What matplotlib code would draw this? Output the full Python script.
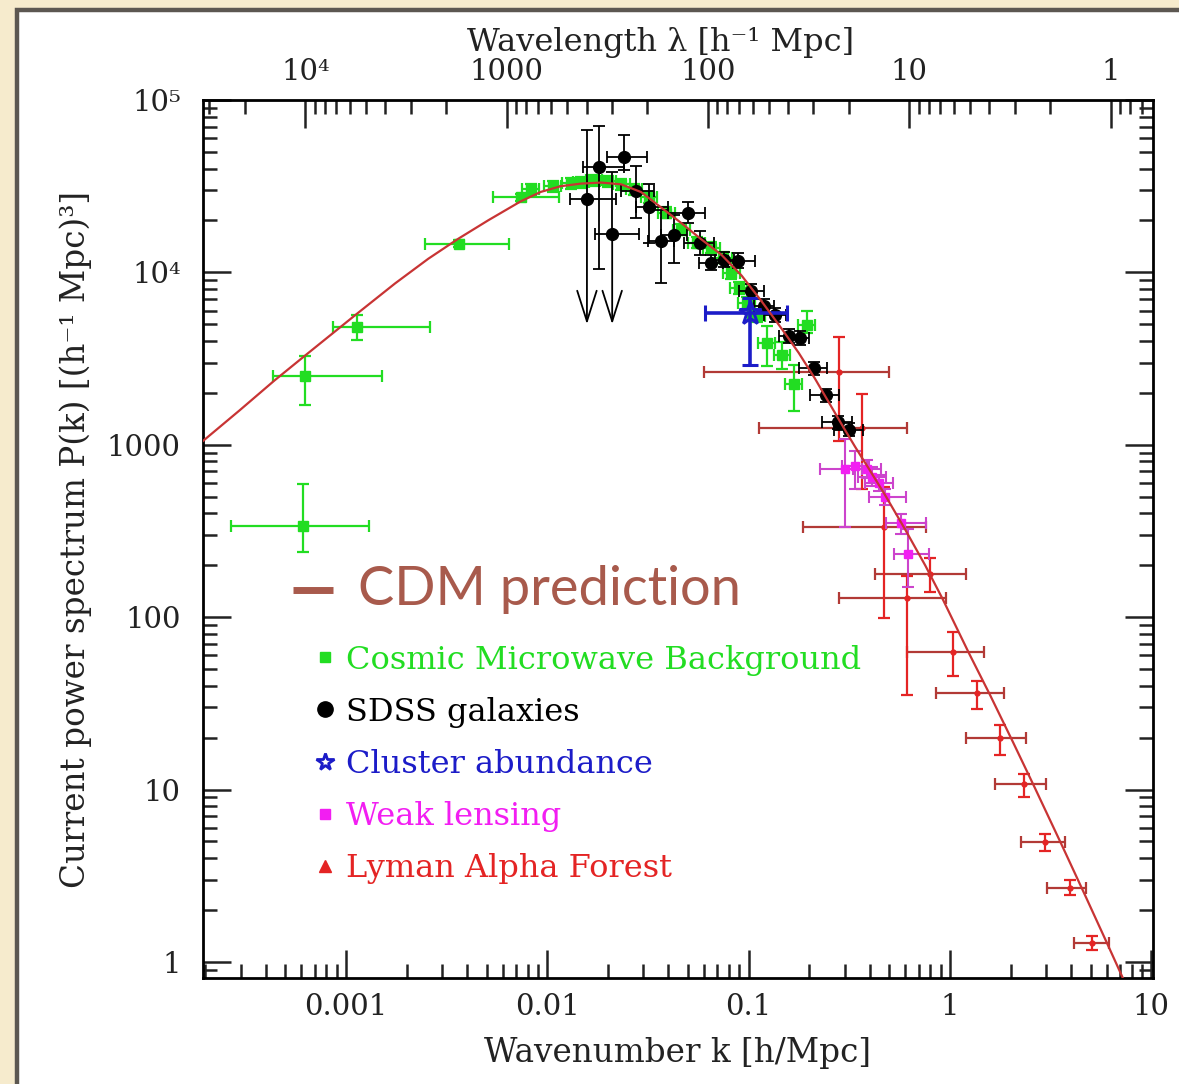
import numpy as np
import matplotlib.pyplot as plt
from matplotlib.lines import Line2D
from matplotlib.patches import Rectangle
from matplotlib.ticker import LogLocator, NullFormatter

# CDM prediction
cdm_k = [1.936e-4, 2.958e-4, 4.426e-4, 6.245e-4, 1.109e-3, 1.754e-3, 2.564e-3, 3.622e-3,
         5.105e-3, 7.379e-3, 9.29e-3, 0.01167, 0.01469, 0.01849, 0.02328, 0.02924,
         0.03681, 0.04634, 0.05834, 0.07328, 0.09226, 0.1161, 0.1462, 0.1774, 0.2133,
         0.2506, 0.2911, 0.3381, 0.3972, 0.4764, 0.5998, 0.7551, 0.9183, 1.250, 1.574,
         2.051, 2.636, 3.639, 4.688, 5.970, 7.499]
cdm_p = [1045, 1581, 2366, 3281, 5636, 8630, 11995, 15700,
         20090, 25820, 29310, 31620, 32730, 33190, 32430, 29240,
         23770, 19320, 15520, 12650, 9590, 6790, 4700, 3412, 2427,
         1758, 1303, 973, 721, 511, 322, 199, 128, 61.0, 35.8,
         18.97, 10.28, 4.62, 2.44, 1.318, 0.733]

# Cosmic Microwave Background
cmb_k = [6.1e-4, 6.25e-4, 1.135e-3, 3.66e-3, 7.38e-3, 0.00828, 0.01065, 0.0131,
         0.01469, 0.01706, 0.02005, 0.0233, 0.02698, 0.03206, 0.03899, 0.04637,
         0.05512, 0.0653, 0.07495, 0.0822, 0.0891, 0.0977, 0.1096, 0.1231,
         0.1463, 0.1674, 0.1945]
cmb_p = [338, 2497, 4820, 14680, 27200, 30300, 31550, 32850,
         33270, 34200, 33750, 32400, 30300, 27200, 22250, 17720,
         14870, 13910, 12170, 9950, 8130, 6650, 5590, 3890,
         3310, 2244, 4950]
cmb_klo = [2.7e-4, 4.33e-4, 8.6e-4, 2.48e-3, 5.4e-3, 0.00753, 0.00968, 0.0119,
           0.01335, 0.01551, 0.01823, 0.02118, 0.02453, 0.02915, 0.03545, 0.04215,
           0.05011, 0.05936, 0.06814, 0.07473, 0.0810, 0.0888, 0.0996, 0.1119,
           0.1330, 0.1522, 0.1768]
cmb_khi = [1.3e-3, 1.51e-3, 2.62e-3, 6.43e-3, 0.0115, 0.00911, 0.01172, 0.0144,
           0.01616, 0.01877, 0.02206, 0.02563, 0.02968, 0.03527, 0.04289, 0.05101,
           0.06063, 0.07183, 0.08245, 0.09042, 0.0980, 0.1075, 0.1206, 0.1354,
           0.1609, 0.1841, 0.2140]
cmb_plo = [240, 1692, 4050, 14000, 26000, 28060, 29210, 30420,
           30800, 31670, 31250, 30000, 28060, 25190, 20600, 16410,
           13770, 12880, 11270, 9210, 7530, 6160, 5180, 2857,
           2750, 1561, 4450]
cmb_phi = [594, 3267, 5660, 15400, 28500, 32720, 34070, 35480,
           35930, 36940, 36450, 34990, 32720, 29380, 24030, 19140,
           16060, 15020, 13140, 10750, 8780, 7180, 6040, 4890,
           3950, 2895, 5970]

# SDSS galaxies
sdss_k = [0.01574, 0.01808, 0.02101, 0.0241, 0.02759, 0.03206, 0.0368, 0.0428,
          0.0502, 0.0571, 0.0653, 0.0758, 0.0881, 0.1023, 0.1189, 0.1350,
          0.1585, 0.1795, 0.211, 0.242, 0.278, 0.3155]
sdss_p = [26500, 40700, 16790, 46560, 29500, 24100, 15280, 16560,
          22250, 14870, 11380, 11840, 11690, 7810, 6390, 5660,
          4270, 4160, 2780, 1936, 1347, 1226]
sdss_klo = [0.01294, 0.01503, 0.01726, 0.01982, 0.0233, 0.02759, 0.0317, 0.0368,
            0.0399, 0.0480, 0.0568, 0.0680, 0.0794, 0.0901, 0.1060, 0.1189,
            0.1420, 0.1600, 0.1776, 0.2014, 0.231, 0.265]
sdss_khi = [0.02198, 0.0241, 0.02856, 0.0313, 0.034, 0.0399, 0.0428, 0.0497,
            0.0604, 0.0677, 0.0750, 0.0850, 0.1074, 0.1195, 0.1330, 0.1538,
            0.1760, 0.2000, 0.245, 0.281, 0.326, 0.3708]
sdss_plo = [26500, 10500, 16790, 39080, 20800, 14870, 8700, 11380,
            19450, 12670, 10300, 10700, 10600, 7100, 5800, 5150,
            3900, 3800, 2550, 1780, 1240, 1130]
sdss_phi = [66850, 70500, 38040, 62500, 41250, 32400, 22860, 21660,
            25450, 17470, 12600, 13100, 12900, 8600, 7050, 6230,
            4680, 4560, 3030, 2110, 1460, 1330]
# points given only as upper limits (arrow down to this value)
limit_k = [0.01574, 0.02101]
limit_top = [26500, 16790]
limit_end = [5000, 5000]

# Cluster abundance
clus_k = [0.1011]
clus_p = [5800]
clus_klo = [0.0604]
clus_khi = [0.1549]
clus_plo = [2895]
clus_phi = [7110]

# Weak lensing
wl_k = [0.3013, 0.338, 0.388, 0.410, 0.445, 0.477, 0.573, 0.621]
wl_p = [726, 757, 726, 653, 602, 499, 352, 232]
wl_klo = [0.226, 0.290, 0.330, 0.350, 0.380, 0.397, 0.482, 0.528]
wl_khi = [0.3666, 0.395, 0.455, 0.480, 0.520, 0.607, 0.764, 0.791]
wl_plo = [334, 556, 640, 580, 540, 450, 304, 149]
wl_phi = [1087, 925, 820, 740, 670, 555, 397, 325]

# Lyman Alpha Forest
lya_k = [0.281, 0.3666, 0.471, 0.800, 0.614, 1.040, 1.356, 1.766, 2.327, 2.96, 3.945, 5.08]
lya_p = [2636, 1243, 334, 177, 128.8, 63.2, 36.5, 19.9, 10.75, 4.94, 2.70, 1.29]
lya_klo = [0.0597, 0.1122, 0.186, 0.425, 0.281, 0.614, 0.857, 1.208, 1.667, 2.25, 3.03, 4.13]
lya_khi = [0.499, 0.614, 0.764, 1.195, 0.951, 1.469, 1.849, 2.38, 2.99, 3.72, 4.74, 6.18]
lya_plo = [1058, 556, 98.4, 139.6, 35.5, 45.8, 29.4, 15.9, 9.03, 4.43, 2.46, 1.17]
lya_phi = [4215, 1962, 571, 220, 173, 81.5, 42.8, 23.7, 12.3, 5.50, 3.0, 1.42]

xtick_vals = [0.001, 0.01, 0.1, 1, 10]
xtick_labels = ['0.001', '0.01', '0.1', '1', '10']
ytick_vals = [1, 10, 100, 1000, 1e4, 1e5]
ytick_labels = ['1', '10', '100', '1000', '10⁴', '10⁵']
lam_vals = [1e4, 1000, 100, 10, 1]
lam_labels = ['10⁴', '1000', '100', '10', '1']

legend_labels = ['Cosmic Microwave Background', 'SDSS galaxies', 'Cluster abundance',
                 'Weak lensing', 'Lyman Alpha Forest']

GREEN = '#22dd22'
BLUE = '#1c1cc8'
MAGENTA = '#f21ef2'
RED = '#e42424'
DARKRED = '#b23a36'
CDM = '#c83434'
BROWN = '#a85a4c'
SERIF = ['DejaVu Serif']
INK = '#222222'


def bars(ax, k, p, klo, khi, plo, phi, **kw):
    k = np.array(k, float)
    p = np.array(p, float)
    xerr = [k - np.array(klo), np.array(khi) - k]
    yerr = [p - np.array(plo), np.array(phi) - p]
    return ax.errorbar(k, p, xerr=xerr, yerr=yerr, ls='none', **kw)


def k2lam(x):
    x = np.asarray(x, float)
    with np.errstate(divide='ignore'):
        return 2 * np.pi / x


fig = plt.figure(figsize=(11.79, 10.84), dpi=100)
fig.patch.set_facecolor('#f6ebcd')
fig.patches.append(Rectangle((17 / 1179, -0.2), 1.3, 1.2 - 10 / 1084,
                             transform=fig.transFigure, facecolor='white',
                             edgecolor='#5c5751', linewidth=3.2, zorder=-5))

ax = fig.add_axes([203 / 1179, 106 / 1084, 950 / 1179, 878 / 1084])
ax.patch.set_alpha(0)
ax.set_xscale('log')
ax.set_yscale('log')
ax.set_xlim(1.95e-4, 10.2)
ax.set_ylim(0.807, 1e5)

ax.plot(cdm_k, cdm_p, color=CDM, lw=1.6, zorder=6)

bars(ax, cmb_k, cmb_p, cmb_klo, cmb_khi, cmb_plo, cmb_phi, color=GREEN, marker='s',
     ms=6.5, elinewidth=1.6, capsize=4.5, capthick=1.6, zorder=3)
bars(ax, sdss_k, sdss_p, sdss_klo, sdss_khi, sdss_plo, sdss_phi, color='black', marker='o',
     ms=8.5, elinewidth=1.3, capsize=4, capthick=1.3, zorder=4)
for k, top, end in zip(limit_k, limit_top, limit_end):
    ax.annotate('', xy=(k, end), xytext=(k, top),
                arrowprops=dict(arrowstyle='->,head_length=1.1,head_width=0.35',
                                color='black', lw=1.3, mutation_scale=20,
                                shrinkA=0, shrinkB=0), zorder=4)
bars(ax, clus_k, clus_p, clus_klo, clus_khi, clus_plo, clus_phi, color=BLUE, marker='*',
     ms=17, mfc='none', mec=BLUE, mew=2.2, elinewidth=2.6, capsize=6, capthick=2.6, zorder=5)
bars(ax, wl_k, wl_p, wl_klo, wl_khi, wl_plo, wl_phi, color=MAGENTA, ecolor='#cc44cc',
     marker='s', ms=6, elinewidth=1.5, capsize=4, capthick=1.5, zorder=5)
lk = np.array(lya_k)
lp = np.array(lya_p)
ax.errorbar(lk, lp, xerr=[lk - np.array(lya_klo), np.array(lya_khi) - lk], ls='none',
            color=DARKRED, elinewidth=1.6, capsize=4.5, capthick=1.6, zorder=2)
ax.errorbar(lk, lp, yerr=[lp - np.array(lya_plo), np.array(lya_phi) - lp], ls='none',
            color=RED, marker='o', ms=3.5, elinewidth=1.6, capsize=4.5, capthick=1.6, zorder=2)

# axes / ticks
for s in ax.spines.values():
    s.set_linewidth(2)
ax.set_xticks(xtick_vals, xtick_labels)
ax.set_yticks(ytick_vals, ytick_labels)
ax.xaxis.set_minor_locator(LogLocator(base=10, subs=np.arange(2, 10), numticks=100))
ax.yaxis.set_minor_locator(LogLocator(base=10, subs=np.arange(2, 10), numticks=100))
ax.xaxis.set_minor_formatter(NullFormatter())
ax.yaxis.set_minor_formatter(NullFormatter())
ax.tick_params(which='both', direction='in', top=False, right=True, width=1.8,
               labelsize=21, colors=INK)
ax.tick_params(which='major', length=20)
ax.tick_params(which='minor', length=10)
ax.tick_params(axis='x', pad=11)
ax.tick_params(axis='y', pad=16)
for t in ax.get_xticklabels() + ax.get_yticklabels():
    t.set_family(SERIF)

sec = ax.secondary_xaxis('top', functions=(k2lam, k2lam))
sec.set_xticks(lam_vals, lam_labels)
sec.xaxis.set_minor_locator(LogLocator(base=10, subs=np.arange(2, 10), numticks=100))
sec.xaxis.set_minor_formatter(NullFormatter())
sec.tick_params(which='both', direction='in', width=1.8, labelsize=21, colors=INK, pad=10)
sec.tick_params(which='major', length=20)
sec.tick_params(which='minor', length=10)
for t in sec.get_xticklabels():
    t.set_family(SERIF)

ax.set_xlabel('Wavenumber k [h/Mpc]', family=SERIF, fontsize=23.5, color=INK, labelpad=11)
ax.set_ylabel('Current power spectrum P(k) [(h⁻¹ Mpc)³]', family=SERIF, fontsize=23.5,
              color=INK, labelpad=11)
sec.set_xlabel('Wavelength λ [h⁻¹ Mpc]', family=SERIF, fontsize=23, color=INK, labelpad=5)
sec.xaxis.label.set_x(0.482)

# legend
handles = [
    Line2D([], [], ls='none', marker='s', ms=7, color=GREEN),
    Line2D([], [], ls='none', marker='o', ms=11, color='black'),
    Line2D([], [], ls='none', marker='*', ms=13, mfc='none', mec=BLUE, mew=2),
    Line2D([], [], ls='none', marker='s', ms=7, color=MAGENTA),
    Line2D([], [], ls='none', marker='^', ms=8, color=RED),
]
leg = ax.legend(handles, legend_labels, loc='upper left', bbox_to_anchor=(0.085, 0.4125),
                frameon=False, handlelength=0.8, handletextpad=0.25, labelspacing=0.66,
                prop=dict(family=SERIF, size=23),
                labelcolor=[GREEN, 'black', BLUE, MAGENTA, RED])

ax.plot([0.095, 0.137], [0.442, 0.442], transform=ax.transAxes, color=BROWN, lw=5,
        solid_capstyle='butt', clip_on=False)
ax.text(0.163, 0.442, 'CDM prediction', transform=ax.transAxes, family=['Lato'],
        fontsize=39, color=BROWN, va='center', ha='left')

fig.savefig('out.png', dpi=100, facecolor=fig.get_facecolor())
